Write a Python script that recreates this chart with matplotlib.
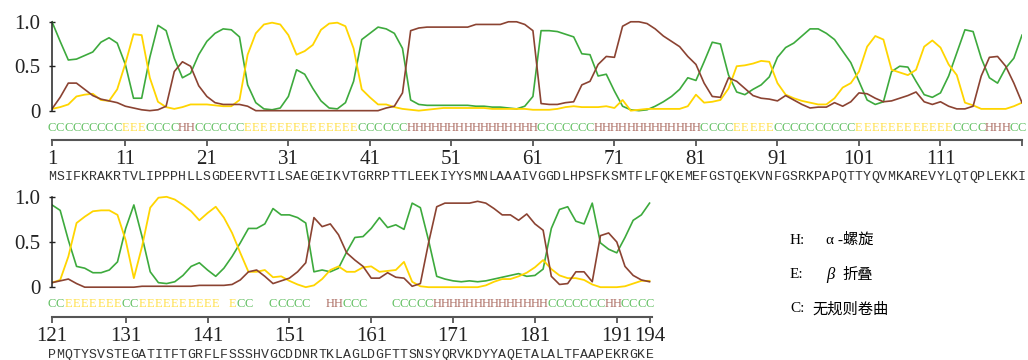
import matplotlib
matplotlib.use("Agg")
import matplotlib.pyplot as plt

# 序列 (1-120 上排, 121-194 下排)
seq_top = "MSIFKRAKRTVLIPPPHLLSGDEERVTILSAEGEIKVTGRRPTTLEEKIYYSMNLAAAIVGGDLHPSFKSMTFLFQKEMEFGSTQEKVNFGSRKPAPQTTYQVMKAREVYLQTQPLEKKI"
seq_bot = "PMQTYSVSTEGATITFTGRFLFSSSHVGCDDNRTKLAGLDGFTTSNSYQRVKDYYAQETALALTFAAPEKRGKE"

# 二级结构预测结果 (空格 = 原图中缺字)
ss_top = ("CCCCCCCCC" "EEE" "CCCC" "HH" "CCCCCC" "EEEEEEEEEEEEEE" "CCCCCC"
          "HHHHHHHHHHHHHHHH" "CCCCCCC" "HHHHHHHHHHHHH" "CCCC" "EEEEE"
          "CCCCCCCCCC" "EEEEEEEEEEEE" "CCCC" "HHH" "CC")
ss_bot = ("CC" "EEEEEEE" "CC" "EEEEEEEEEE" " " "E" "CC" "  " "CCCCC" "  " "HH"
          "CCC" "   " "CCCCC" "HHHHHHHHHHHHHH" "CCCCCCC" "HH" "CCCC")

# 无规则卷曲 (C)
coil_top = [1.0, 0.78, 0.57, 0.58, 0.62, 0.66, 0.77, 0.82, 0.76, 0.52,
            0.14, 0.14, 0.6, 0.96, 0.9, 0.59, 0.37, 0.42, 0.63, 0.78,
            0.87, 0.92, 0.91, 0.83, 0.29, 0.09, 0.02, 0.01, 0.03, 0.16,
            0.46, 0.41, 0.25, 0.11, 0.03, 0.02, 0.09, 0.33, 0.8, 0.87,
            0.94, 0.92, 0.87, 0.7, 0.12, 0.07, 0.06, 0.06, 0.06, 0.06,
            0.06, 0.06, 0.05, 0.05, 0.04, 0.04, 0.03, 0.02, 0.05, 0.16,
            0.9, 0.9, 0.89, 0.86, 0.83, 0.64, 0.63, 0.39, 0.41, 0.22,
            0.05, 0.01, 0.0, 0.01, 0.05, 0.1, 0.16, 0.24, 0.37, 0.34,
            0.55, 0.77, 0.75, 0.4, 0.21, 0.18, 0.24, 0.29, 0.38, 0.6,
            0.71, 0.76, 0.84, 0.92, 0.92, 0.87, 0.8, 0.67, 0.54, 0.33,
            0.12, 0.07, 0.1, 0.44, 0.5, 0.49, 0.33, 0.18, 0.15, 0.2,
            0.39, 0.65, 0.91, 0.89, 0.59, 0.37, 0.31, 0.48, 0.59, 0.85]
coil_bot = [0.91, 0.85, 0.52, 0.23, 0.21, 0.16, 0.16, 0.19, 0.28, 0.65,
            0.91, 0.56, 0.17, 0.05, 0.04, 0.06, 0.13, 0.23, 0.27, 0.19,
            0.12, 0.21, 0.34, 0.49, 0.65, 0.65, 0.7, 0.87, 0.8, 0.8,
            0.77, 0.71, 0.17, 0.19, 0.17, 0.21, 0.39, 0.55, 0.56, 0.65,
            0.77, 0.66, 0.69, 0.64, 0.93, 0.88, 0.52, 0.12, 0.09, 0.07,
            0.06, 0.07, 0.06, 0.07, 0.09, 0.11, 0.13, 0.15, 0.12, 0.13,
            0.2, 0.65, 0.86, 0.89, 0.73, 0.7, 0.93, 0.49, 0.42, 0.38,
            0.55, 0.74, 0.8, 0.93]

# β 折叠 (E)
sheet_top = [0.02, 0.04, 0.07, 0.16, 0.18, 0.19, 0.12, 0.11, 0.24, 0.53,
             0.86, 0.85, 0.37, 0.1, 0.04, 0.02, 0.04, 0.07, 0.07, 0.07,
             0.06, 0.05, 0.05, 0.12, 0.63, 0.87, 0.97, 0.99, 0.97, 0.85,
             0.63, 0.67, 0.74, 0.91, 0.98, 0.99, 0.95, 0.7, 0.24, 0.15,
             0.07, 0.07, 0.04, 0.02, 0.01, 0.0, 0.01, 0.02, 0.03, 0.03,
             0.03, 0.03, 0.03, 0.03, 0.02, 0.02, 0.02, 0.02, 0.02, 0.01,
             0.01, 0.01, 0.02, 0.04, 0.05, 0.04, 0.04, 0.04, 0.05, 0.03,
             0.12, 0.0, 0.01, 0.02, 0.02, 0.02, 0.02, 0.02, 0.05, 0.18,
             0.09, 0.1, 0.12, 0.25, 0.5, 0.51, 0.53, 0.56, 0.55, 0.31,
             0.18, 0.14, 0.11, 0.09, 0.07, 0.07, 0.14, 0.26, 0.31, 0.44,
             0.72, 0.84, 0.8, 0.46, 0.43, 0.4, 0.46, 0.72, 0.79, 0.71,
             0.52, 0.4, 0.09, 0.06, 0.02, 0.02, 0.02, 0.02, 0.05, 0.09]
sheet_bot = [0.05, 0.08, 0.34, 0.71, 0.78, 0.84, 0.85, 0.85, 0.8, 0.52,
             0.1, 0.45, 0.88, 0.99, 1.0, 0.97, 0.91, 0.84, 0.74, 0.82,
             0.89, 0.77, 0.6, 0.38, 0.17, 0.17, 0.19, 0.11, 0.12, 0.07,
             0.03, 0.0, 0.02, 0.09, 0.19, 0.23, 0.17, 0.17, 0.22, 0.23,
             0.17, 0.18, 0.19, 0.28, 0.06, 0.01, 0.0, 0.0, 0.0, 0.0,
             0.0, 0.0, 0.0, 0.02, 0.06, 0.09, 0.09, 0.12, 0.16, 0.22,
             0.3, 0.2, 0.13, 0.1, 0.1, 0.08, 0.03, 0.0, 0.0, 0.0,
             0.01, 0.04, 0.07, 0.07]

# α 螺旋 (H)
helix_top = [0.02, 0.15, 0.31, 0.31, 0.24, 0.17, 0.13, 0.11, 0.09, 0.05,
             0.03, 0.01, 0.0, 0.01, 0.05, 0.44, 0.55, 0.5, 0.28, 0.16,
             0.09, 0.07, 0.07, 0.07, 0.05, 0.0, 0.0, 0.0, 0.0, 0.0,
             0.0, 0.0, 0.0, 0.0, 0.0, 0.0, 0.0, 0.0, 0.0, 0.0,
             0.0, 0.03, 0.05, 0.2, 0.9, 0.93, 0.94, 0.94, 0.94, 0.94,
             0.94, 0.94, 0.97, 0.97, 0.97, 0.97, 1.0, 1.0, 0.97, 0.9,
             0.08, 0.07, 0.07, 0.09, 0.1, 0.29, 0.33, 0.52, 0.61, 0.6,
             0.95, 1.0, 1.0, 0.98, 0.92, 0.84, 0.78, 0.72, 0.61, 0.52,
             0.31, 0.16, 0.15, 0.37, 0.33, 0.25, 0.17, 0.14, 0.13, 0.11,
             0.17, 0.12, 0.07, 0.03, 0.04, 0.04, 0.09, 0.05, 0.1, 0.2,
             0.19, 0.14, 0.1, 0.11, 0.14, 0.17, 0.21, 0.1, 0.07, 0.1,
             0.05, 0.02, 0.02, 0.05, 0.39, 0.6, 0.61, 0.5, 0.31, 0.09]
helix_bot = [0.05, 0.07, 0.09, 0.04, 0.0, 0.0, 0.0, 0.0, 0.0, 0.0,
             0.0, 0.01, 0.01, 0.01, 0.01, 0.01, 0.01, 0.01, 0.02, 0.02,
             0.02, 0.02, 0.03, 0.08, 0.17, 0.19, 0.12, 0.04, 0.07, 0.1,
             0.17, 0.27, 0.77, 0.67, 0.7, 0.58, 0.38, 0.3, 0.23, 0.1,
             0.1, 0.16, 0.11, 0.1, 0.01, 0.04, 0.49, 0.89, 0.93, 0.93,
             0.93, 0.93, 0.95, 0.93, 0.87, 0.8, 0.8, 0.74, 0.81, 0.7,
             0.63, 0.12, 0.03, 0.04, 0.17, 0.17, 0.06, 0.57, 0.6, 0.5,
             0.23, 0.13, 0.08, 0.06]

# 刻度 (位置, 标签)
ticks_top = [1, 10, 20, 30, 40, 50, 60, 70, 80, 90, 100, 110, 120]
labels_top = ["1", "11", "21", "31", "41", "51", "61", "71", "81", "91", "101", "111", ""]
ticks_bot = [121, 130, 140, 150, 160, 170, 180, 190, 194]
labels_bot = ["121", "131", "141", "151", "161", "171", "181", "191", "194"]

GREEN, YELLOW, BROWN = "#3daa3d", "#ffd500", "#8b4332"
LETTER_COL = {"C": "#62c062", "E": "#ffe04a", "H": "#ad6e64", " ": "white"}
SERIF = "Liberation Serif"
MONO = "Liberation Mono"

W, H = 1028, 360
fig = plt.figure(figsize=(W / 100, H / 100), dpi=100)


def draw_row(rect, start, coil, sheet, helix, ss, seq, ticks, labels, xmax):
    ax = fig.add_axes(rect)
    x = list(range(start, start + len(coil)))
    ax.plot(x, coil, color=GREEN, lw=1.2)
    ax.plot(x, sheet, color=YELLOW, lw=1.3)
    ax.plot(x, helix, color=BROWN, lw=1.2)
    ax.set_xlim(start, xmax)
    ax.set_ylim(-0.33, 1.02)

    for s in ["top", "right"]:
        ax.spines[s].set_visible(False)
    ax.spines["left"].set_bounds(0, 1)
    ax.spines["left"].set_color("#222222")
    ax.spines["left"].set_linewidth(1.1)
    ax.spines["bottom"].set_color("#555555")
    ax.spines["bottom"].set_linewidth(1.5)

    ax.set_yticks([0, 0.5, 1.0])
    ax.set_yticklabels(["0", "0.5", "1.0"])
    ax.tick_params(axis="y", direction="inout", length=5, width=1, pad=6,
                   labelsize=15, colors="#222222")
    ax.set_xticks(ticks)
    ax.set_xticklabels(labels)
    ax.tick_params(axis="x", direction="out", length=4.5, width=1.3, pad=3,
                   labelsize=15, color="#555555", labelcolor="#222222")
    for lab in ax.get_xticklabels() + ax.get_yticklabels():
        lab.set_family(SERIF)

    # 每个残基一个结构字母和氨基酸字母
    for i, ch in enumerate(ss):
        ax.text(x[i], -0.19, ch, ha="center", va="center", fontsize=9,
                family=SERIF, color=LETTER_COL[ch], clip_on=False)
    for i, ch in enumerate(seq):
        ax.text(x[i], -0.75, ch, ha="center", va="center", fontsize=9.5,
                family=MONO, color="#333333", clip_on=False)
    return ax


draw_row([52 / W, 1 - 140 / H, 970 / W, 120 / H], 1, coil_top, sheet_top,
         helix_top, ss_top, seq_top, ticks_top, labels_top, 120)
draw_row([52 / W, 1 - 317 / H, 600 / W, 122 / H], 121, coil_bot, sheet_bot,
         helix_bot, ss_bot, seq_bot, ticks_bot, labels_bot, 194.3)

# 图例
cjk = [SERIF, "Noto Sans CJK SC"]
fig.text(790 / W, 1 - 240 / H, "H:", fontsize=11, family=SERIF, va="center")
fig.text(826 / W, 1 - 240 / H, "α -螺旋", fontsize=11, family=cjk, va="center")
fig.text(790 / W, 1 - 275 / H, "E:", fontsize=11, family=SERIF, va="center")
fig.text(826 / W, 1 - 275 / H, "β", fontsize=12, family=SERIF, style="italic", va="center")
fig.text(842 / W, 1 - 275 / H, "折叠", fontsize=11, family=cjk, va="center")
fig.text(790 / W, 1 - 309 / H, "C:", fontsize=11, family=SERIF, va="center")
fig.text(812 / W, 1 - 309 / H, "无规则卷曲", fontsize=11, family=cjk, va="center")

fig.savefig("out.png", dpi=100, facecolor="white")
